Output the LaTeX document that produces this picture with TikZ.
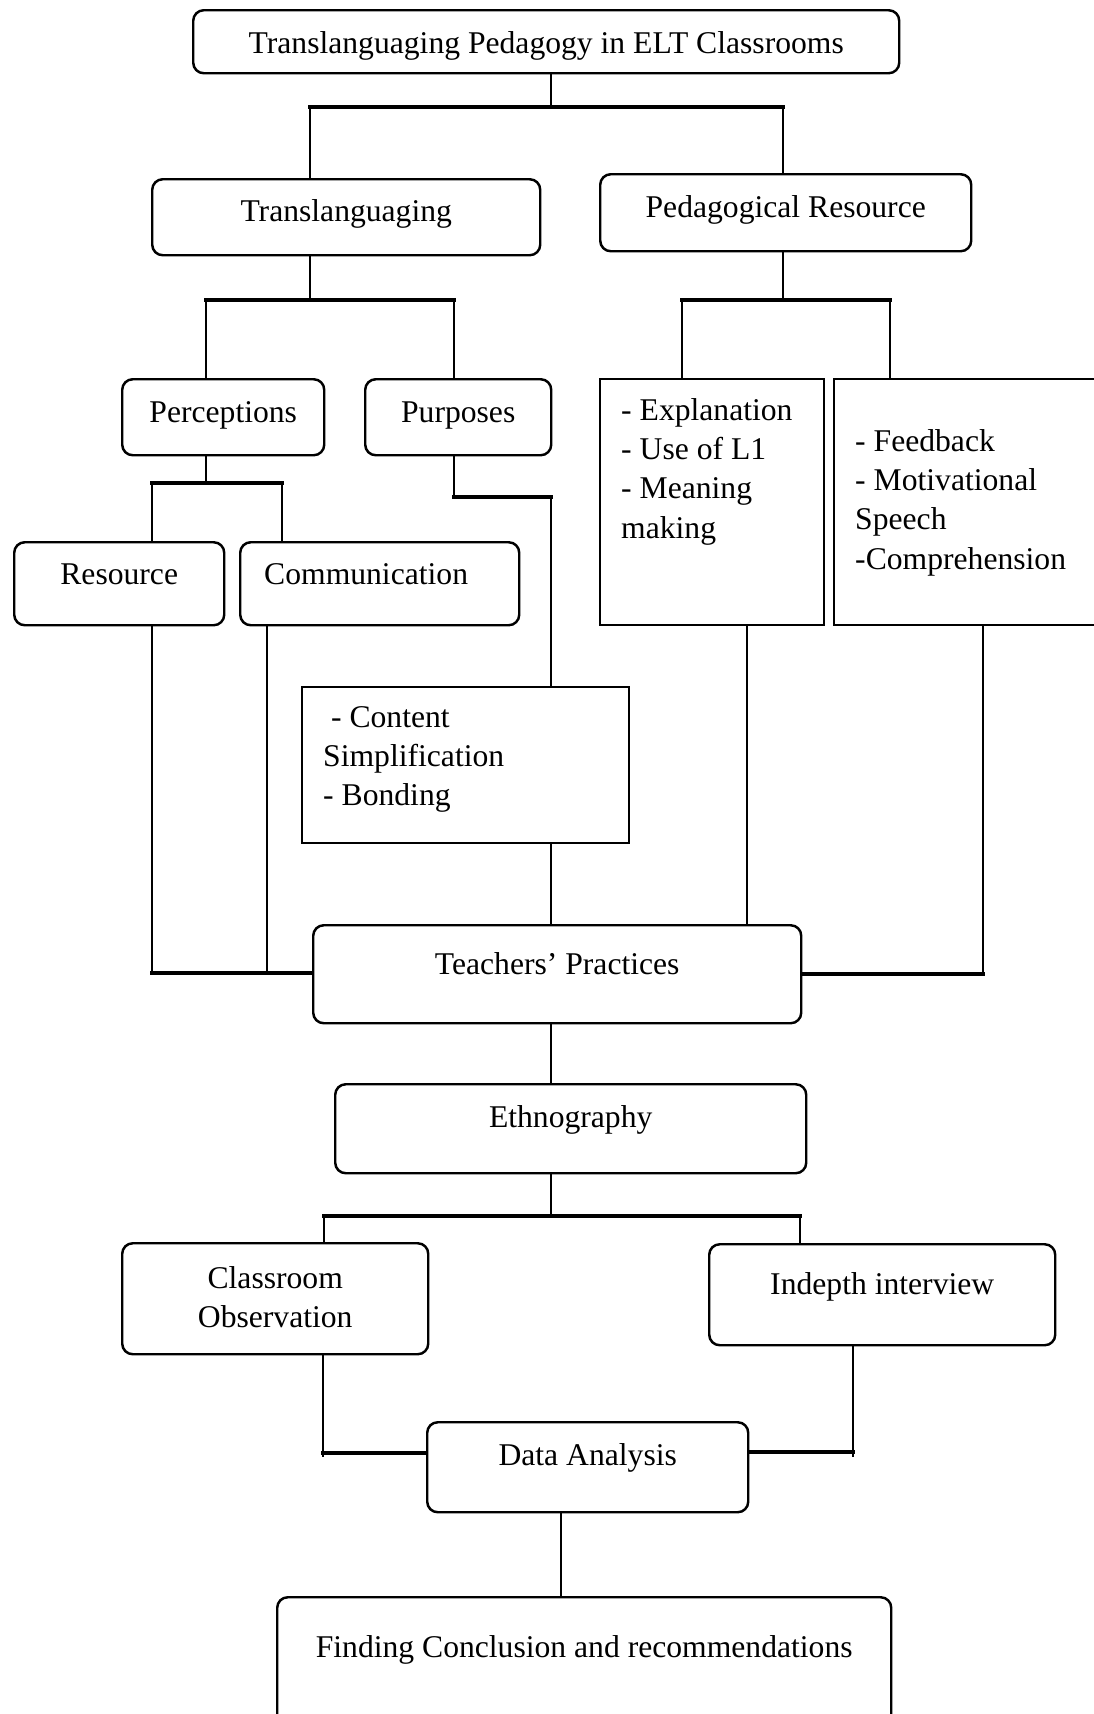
\documentclass[tikz,border=0pt]{standalone}
\usepackage{fontspec}
\setmainfont{Liberation Serif}

\tikzset{
  box/.style={draw,line width=.7pt,rounded corners=3pt,anchor=north west,
    inner xsep=0pt,inner ysep=0pt,font=\fontsize{9pt}{11.2pt}\selectfont},
  listbox/.style={box,sharp corners,align=flush left,inner xsep=.21cm},
  link/.style={line width=.8pt},
  bus/.style={line width=1.3pt,line cap=rect}
}

\begin{document}
\begin{tikzpicture}[x=1cm,y=-1cm]
  \useasboundingbox (0,0) rectangle (10.94,17.14);
  \clip (0,0) rectangle (10.94,17.14);

  % boxes
  \node[box,minimum width=7.06cm,text height=.43cm,text depth=.20cm] (title) at (1.92,.09) {Translanguaging Pedagogy in ELT Classrooms};
  \node[box,minimum width=3.88cm,text height=.42cm,text depth=.34cm] (trans) at (1.51,1.78) {Translanguaging};
  \node[box,minimum width=3.71cm,text height=.43cm,text depth=.34cm] (ped) at (5.99,1.73) {Pedagogical Resource};
  \node[box,minimum width=2.02cm,text height=.43cm,text depth=.33cm] (perc) at (1.21,3.78) {Perceptions};
  \node[box,minimum width=1.86cm,text height=.43cm,text depth=.33cm] (purp) at (3.64,3.78) {Purposes};
  \node[listbox,text width=1.82cm,text height=.41cm,text depth=2.05cm] (expl) at (5.99,3.78) {- Explanation\\- Use of L1\\- Meaning\\making};
  \node[listbox,text width=2.40cm,text height=.72cm,text depth=1.74cm] (feed) at (8.33,3.78) {- Feedback\\- Motivational\\Speech\\-Comprehension};
  \node[box,minimum width=2.10cm,text height=.42cm,text depth=.41cm] (res) at (.13,5.41) {Resource};
  \node[box,align=flush left,inner xsep=.24cm,text width=2.31cm,text height=.42cm,text depth=.41cm] (comm) at (2.39,5.41) {Communication};
  \node[listbox,text width=2.85cm,text height=.40cm,text depth=1.16cm] (cont) at (3.01,6.86) {\ - Content\\Simplification\\- Bonding};
  \node[box,minimum width=4.88cm,text height=.49cm,text depth=.49cm] (teach) at (3.12,9.24) {Teachers’ Practices};
  \node[box,minimum width=4.71cm,text height=.43cm,text depth=.46cm] (ethno) at (3.34,10.83) {Ethnography};
  \node[box,align=flush center,text width=3.06cm,text height=.45cm,text depth=.66cm] (class) at (1.21,12.42) {Classroom\\Observation};
  \node[box,minimum width=3.46cm,text height=.50cm,text depth=.51cm] (indep) at (7.08,12.43) {Indepth interview};
  \node[box,minimum width=3.21cm,text height=.43cm,text depth=.47cm] (data) at (4.26,14.21) {Data Analysis};
  \node[box,minimum width=6.14cm,text height=.60cm,text depth=1.34cm] (find) at (2.76,15.96) {Finding Conclusion and recommendations};

  % junctions
  \coordinate (j0) at (5.51,1.07);
  \coordinate (jt) at (3.10,1.07);
  \coordinate (jp) at (7.83,1.07);
  \coordinate (k0) at (3.10,3.00);
  \coordinate (ka) at (2.06,3.00);
  \coordinate (kb) at (4.54,3.00);
  \coordinate (m0) at (7.83,3.00);
  \coordinate (ma) at (6.82,3.00);
  \coordinate (mb) at (8.90,3.00);
  \coordinate (n0) at (2.06,4.83);
  \coordinate (na) at (1.52,4.83);
  \coordinate (nb) at (2.82,4.83);
  \coordinate (p0) at (4.54,4.97);
  \coordinate (p1) at (5.51,4.97);
  \coordinate (q0) at (1.52,9.73);
  \coordinate (q1) at (2.67,9.73);
  \coordinate (q2) at (7.47,9.24);
  \coordinate (q3) at (9.83,9.74);
  \coordinate (e0) at (5.51,12.16);
  \coordinate (ea) at (3.24,12.16);
  \coordinate (eb) at (8.00,12.16);
  \coordinate (d0) at (3.23,14.53);
  \coordinate (d1) at (8.53,14.52);

  % connectors
  \draw[link] (j0 |- title.south) -- (j0);
  \draw[bus] (jt) -- (jp);
  \draw[link] (jt) -- (jt |- trans.north);
  \draw[link] (jp) -- (jp |- ped.north);

  \draw[link] (k0 |- trans.south) -- (k0);
  \draw[bus] (ka) -- (kb);
  \draw[link] (ka) -- (ka |- perc.north);
  \draw[link] (kb) -- (kb |- purp.north);

  \draw[link] (m0 |- ped.south) -- (m0);
  \draw[bus] (ma) -- (mb);
  \draw[link] (ma) -- (ma |- expl.north);
  \draw[link] (mb) -- (mb |- feed.north);

  \draw[link] (n0 |- perc.south) -- (n0);
  \draw[bus] (na) -- (nb);
  \draw[link] (na) -- (na |- res.north);
  \draw[link] (nb) -- (nb |- comm.north);

  \draw[link] (p0 |- purp.south) -- (p0);
  \draw[bus] (p0) -- (p1);
  \draw[link] (p1) -- (p1 |- cont.north);
  \draw[link] (p1 |- cont.south) -- (p1 |- teach.north);

  \draw[link] (q0 |- res.south) -- (q0);
  \draw[link] (q1 |- comm.south) -- (q1);
  \draw[bus] (q0) -- (q0 -| teach.west);
  \draw[link] (q2 |- expl.south) -- (q2);
  \draw[link] (q3 |- feed.south) -- (q3);
  \draw[bus] (q3) -- (q3 -| teach.east);

  \draw[link] (e0 |- teach.south) -- (e0 |- ethno.north);
  \draw[link] (e0 |- ethno.south) -- (e0);
  \draw[bus] (ea) -- (eb);
  \draw[link] (ea) -- (ea |- class.north);
  \draw[link] (eb) -- (eb |- indep.north);

  \draw[link] (d0 |- class.south) -- ([yshift=-.04cm]d0);
  \draw[bus] (d0) -- (d0 -| data.west);
  \draw[link] (d1 |- indep.south) -- ([yshift=-.05cm]d1);
  \draw[bus] (d1) -- (d1 -| data.east);
  \draw[link] (data.south -| 5.61,0) -- (find.north -| 5.61,0);
\end{tikzpicture}
\end{document}
